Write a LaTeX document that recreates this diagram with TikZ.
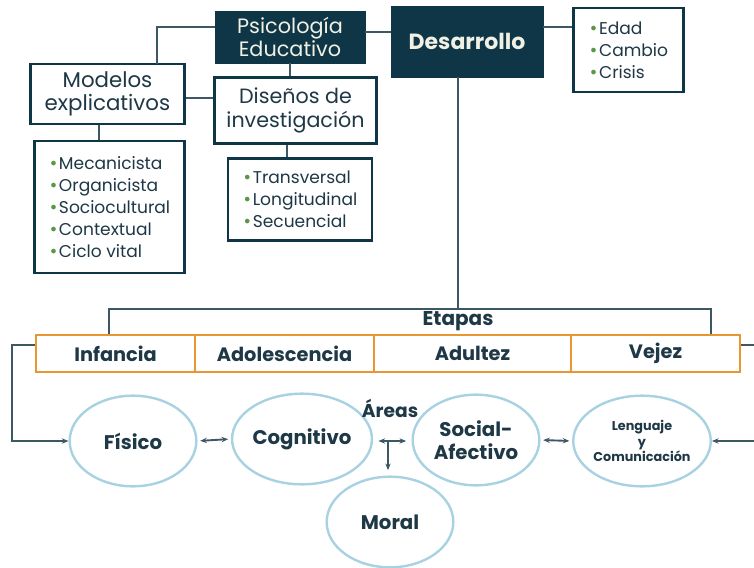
\documentclass[tikz,border=0pt]{standalone}
\usepackage{fontspec}
\setmainfont{Poppins}
\newfontfamily\dotfont{DejaVu Sans}
\usetikzlibrary{arrows.meta,shapes.geometric}
\definecolor{deep_teal}{RGB}{14,54,70}
\definecolor{ink}{RGB}{30,56,70}
\definecolor{cream}{RGB}{240,240,228}
\definecolor{leaf_green}{RGB}{90,150,70}
\definecolor{stage_orange}{RGB}{232,150,50}
\definecolor{area_blue}{RGB}{168,210,226}
\definecolor{line_grey}{RGB}{60,88,100}
\tikzstyle{dk}=[rectangle,fill=deep_teal,draw=deep_teal,text=cream,align=center,inner sep=2pt]
\tikzstyle{wb}=[rectangle,fill=white,draw=deep_teal,line width=2.2pt,text=ink,align=center,inner sep=2pt]
\tikzstyle{lst}=[wb,align=left,font=\fontsize{12.8}{16.5}\selectfont]
\tikzstyle{stg}=[rectangle,draw=stage_orange,line width=1.9pt,text=ink,
  font=\bfseries\fontsize{14.5}{16}\selectfont,minimum height=28pt,inner sep=0pt]
\tikzstyle{ar}=[ellipse,draw=area_blue,line width=1.8pt,text=ink,align=center,
  font=\bfseries\fontsize{14.8}{17.5}\selectfont,minimum width=95pt,minimum height=68pt,inner sep=0pt]
\tikzstyle{none}=[]
\tikzstyle{wire}=[draw=line_grey,line width=1.4pt]
\tikzstyle{arr}=[wire,-{Stealth[length=5pt,width=4pt]}]
\tikzstyle{darr}=[wire,{Stealth[length=5pt,width=4pt]}-{Stealth[length=5pt,width=4pt]}]
\newcommand{\bul}{{\color{leaf_green}\dotfont\fontsize{12}{12}\selectfont •}\hspace{0.5pt}}

\begin{document}
\begin{tikzpicture}[x=0.75pt,y=-0.75pt]
            \useasboundingbox (0,0) rectangle (754,568);
            \clip (0,0) rectangle (754,568);
            \node [style=dk, minimum width=112.5pt, minimum height=39pt, font=\fontsize{15.6}{16}\selectfont] (0) at (290, 37) {Psicología\\Educativo};
            \node [style=dk, minimum width=114pt, minimum height=53pt, font=\bfseries\fontsize{16.5}{18}\selectfont] (1) at (467, 41.5) {Desarrollo};
            \node [style=wb, minimum width=115pt, minimum height=45pt, font=\fontsize{16}{17.3}\selectfont] (2) at (107.5, 94) {Modelos\\explicativos};
            \node [style=lst, minimum width=82pt, minimum height=63pt] (3) at (628.5, 50) {\bul Edad\\\bul Cambio\\\bul Crisis};
            \node [style=lst, minimum width=113pt, minimum height=99pt] (4) at (109.5, 207) {\bul Mecanicista\\\bul Organicista\\\bul Sociocultural\\\bul Contextual\\\bul Ciclo vital};
            \node [style=wb, minimum width=122pt, minimum height=49pt, font=\fontsize{15.5}{18}\selectfont] (5) at (295.5, 110.5) {Diseños de\\investigación};
            \node [style=lst, minimum width=108pt, minimum height=62pt] (6) at (300, 199.5) {\bul Transversal\\\bul Longitudinal\\\bul Secuencial};
            \node [style=stg, minimum width=119pt] (10) at (115.5, 353.5) {Infancia};
            \node [style=stg, minimum width=134pt] (11) at (284.5, 353.5) {Adolescencia};
            \node [style=stg, minimum width=148pt] (12) at (472.5, 353.5) {Adultez};
            \node [style=stg, minimum width=127pt] (13) at (655.5, 353.5) {Vejez};
            \node [style=none, text=ink, font=\bfseries\fontsize{15}{16}\selectfont] (15) at (458, 321) {Etapas};
            \node [style=ar] (20) at (133, 441) {Físico};
            \node [style=ar] (21) at (302, 439) {Cognitivo};
            \node [style=ar] (22) at (390, 522) {Moral};
            \node [style=ar] (23) at (476, 440) {Social-\\Afectivo};
            \node [style=ar, font=\bfseries\fontsize{9.6}{11.5}\selectfont] (24) at (642, 441) {Lenguaje\\y\\Comunicación};
            \node [style=none, text=ink, font=\bfseries\fontsize{14}{15}\selectfont] (25) at (390, 408) {Áreas};
            \coordinate (30) at (388, 441);
            \draw [style=wire] (0.west |- 0,27) -| (157, 64);
            \draw [style=wire] (0.east |- 0,32) -- (1.west |- 0,32);
            \draw [style=wire] (1.east |- 0,27) -- (3.west |- 0,27);
            \draw [style=wire] (0.south) -- (0.south |- 5.north);
            \draw [style=wire] (2.east |- 0,98) -- (5.west |- 0,98);
            \draw [style=wire] (2.south -| 99,0) -- (4.north -| 99,0);
            \draw [style=wire] (5.south -| 287,0) -- (6.north -| 287,0);
            \draw [style=wire] (1.south -| 458,0) -- (458, 309);
            \draw [style=wire] (10.north -| 109,0) |- (711, 309) -- (13.north -| 711,0);
            \draw [style=arr] (10.west |- 0,345) -| (12, 441) -- (20.west);
            \draw [style=arr] (13.east |- 0,345) -| (775, 441) -- (24.east);
            \draw [style=darr, shorten <=2pt, shorten >=2pt] (20.east) -- (21.west);
            \draw [style=darr, shorten <=4pt, shorten >=4pt] (21.east |- 30) -- (23.west |- 30);
            \draw [style=arr, shorten >=4pt] (30) -- (30 |- 22.north);
            \draw [style=darr, shorten <=2pt, shorten >=2pt] (23.east) -- (24.west);
\end{tikzpicture}
\end{document}
